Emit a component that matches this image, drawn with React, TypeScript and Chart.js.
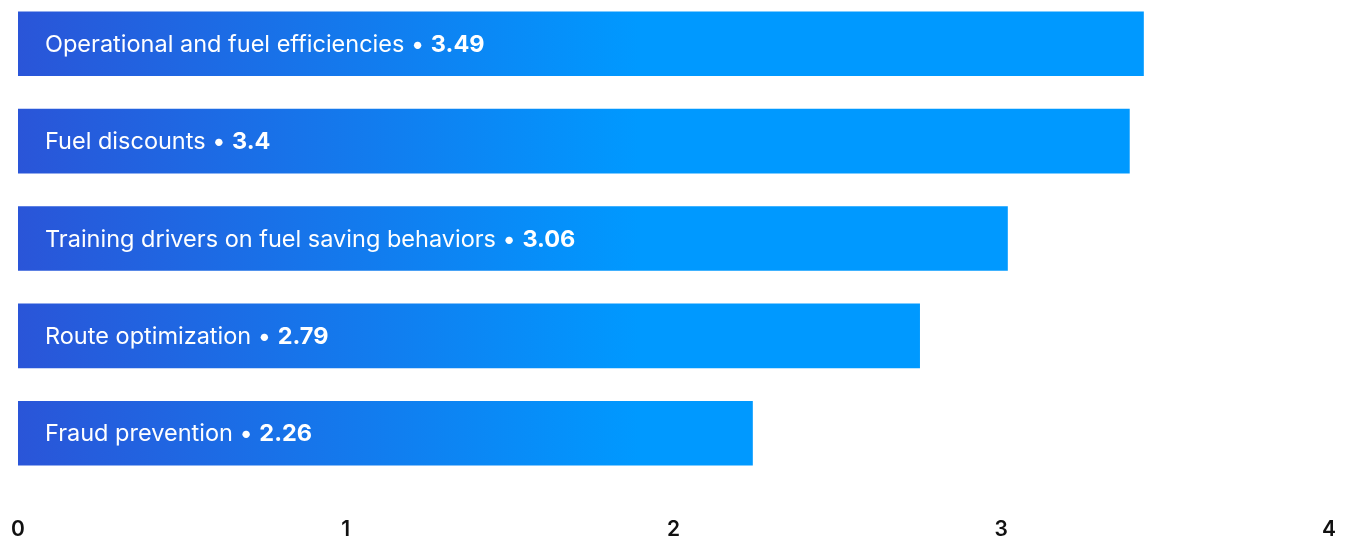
import React, { useEffect, useRef } from "react";
import { Chart, registerables } from "chart.js";

Chart.register(...registerables);

const categories = [
  "Operational and fuel efficiencies",
  "Fuel discounts",
  "Training drivers on fuel saving behaviors",
  "Route optimization",
  "Fraud prevention",
];
const barValues = [3.435, 3.392, 3.02, 2.752, 2.242];
const valueLabels = ["3.49", "3.4", "3.06", "2.79", "2.26"];
const xTicks = [0, 1, 2, 3, 4];

const FONT = "Inter, 'Open Sans', sans-serif";
const LABEL_SIZE = 23.5;

const labelPlugin = {
  id: "barLabels",
  afterDatasetsDraw(chart: any) {
    const ctx = chart.ctx;
    const meta = chart.getDatasetMeta(0);
    ctx.save();
    ctx.fillStyle = "#ffffff";
    ctx.textBaseline = "middle";
    ctx.textAlign = "left";
    meta.data.forEach((bar: any, i: number) => {
      const x0 = Math.min(bar.base, bar.x) + 27;
      const y = bar.y + 1;
      ctx.font = `400 ${LABEL_SIZE}px ${FONT}`;
      const name = categories[i] + " \u2022 ";
      ctx.fillText(name, x0, y);
      const w = ctx.measureText(name).width;
      ctx.font = `700 ${LABEL_SIZE}px ${FONT}`;
      ctx.fillText(valueLabels[i], x0 + w, y);
    });
    ctx.restore();
  },
};

export default function App() {
  const ref = useRef<HTMLCanvasElement>(null);
  useEffect(() => {
    if (!ref.current) return;
    const chart = new Chart(ref.current, {
      type: "bar",
      data: {
        labels: categories,
        datasets: [
          {
            data: barValues,
            backgroundColor: (c: any) => {
              const area = c.chart.chartArea;
              if (!area) return "#0099ff";
              const g = c.chart.ctx.createLinearGradient(area.left, 0, area.left + 620, 0);
              g.addColorStop(0, "#2a55d8");
              g.addColorStop(1, "#0099ff");
              return g;
            },
            borderWidth: 0,
            barPercentage: 0.663,
            categoryPercentage: 1,
          },
        ],
      },
      options: {
        indexAxis: "y",
        animation: false,
        responsive: true,
        maintainAspectRatio: false,
        layout: { padding: { left: 10, right: 10, top: 0, bottom: 0 } },
        plugins: { legend: { display: false }, tooltip: { enabled: false } },
        scales: {
          x: {
            min: 0,
            max: 4,
            grid: { display: false, drawTicks: false },
            border: { display: false },
            afterBuildTicks: (s: any) => {
              s.ticks = xTicks.map((v) => ({ value: v }));
            },
            afterFit: (s: any) => {
              s.paddingLeft = 0;
              s.paddingRight = 0;
              s.paddingTop = 0;
              s.paddingBottom = 0;
              s.height = 56;
            },
            ticks: {
              color: "#111111",
              padding: 35,
              font: { family: FONT, size: 21, weight: "600" },
              maxRotation: 0,
            },
          },
          y: {
            display: false,
            grid: { display: false },
          },
        },
      },
      plugins: [labelPlugin],
    });
    return () => chart.destroy();
  }, []);
  return (
    <div style={{ position: "fixed", left: 8, top: -5, width: 1331, height: 543 }}>
      <canvas ref={ref} />
    </div>
  );
}
